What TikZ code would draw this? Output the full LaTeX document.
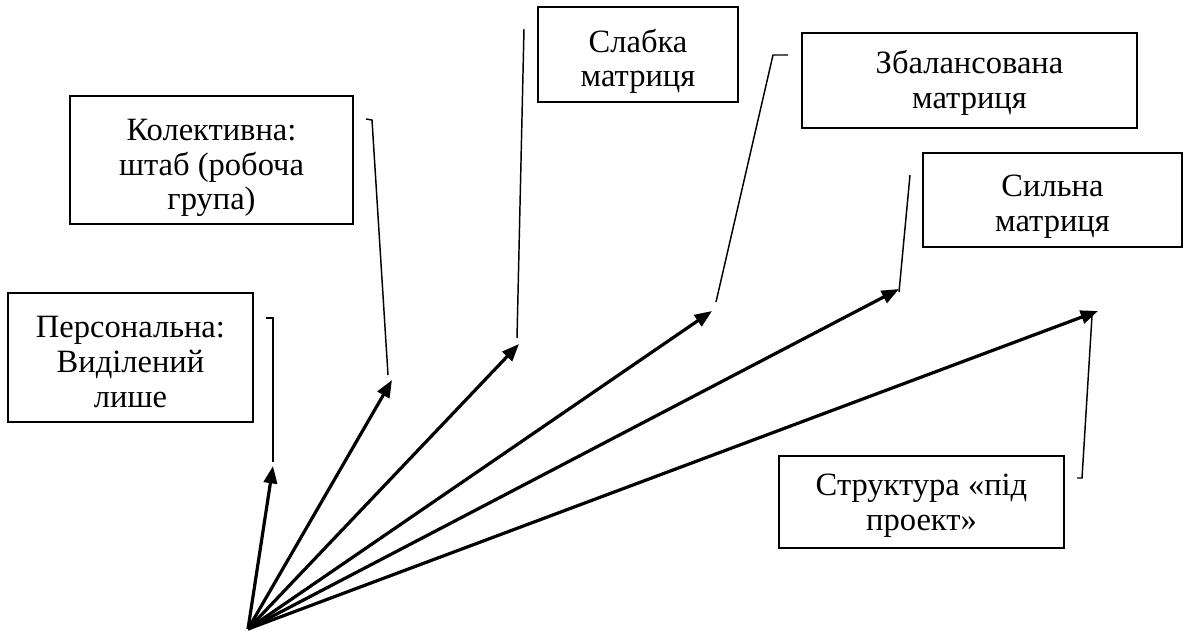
\documentclass[tikz,border=0pt]{standalone}
\usepackage{fontspec}
\setmainfont{Liberation Serif}
\usetikzlibrary{arrows.meta}
\begin{document}
\begin{tikzpicture}[x=0.75pt,y=-0.75pt,
  box/.style={draw,line width=1.1pt,inner sep=0pt,outer sep=0pt},
  txt/.style={inner sep=0pt,align=center,font=\fontsize{24.4}{26}\selectfont},
  arr/.style={line width=2.4pt,-{Triangle[length=13pt,width=10pt]}},
  callout/.style={line width=1.1pt}]
\useasboundingbox (0,0) rectangle (1184,635);

% category boxes
\node[box,minimum width=183.75pt,minimum height=96.75pt] (pers) at (130.5,357.5) {};
\node[box,minimum width=212.25pt,minimum height=96pt] (kol) at (211.5,160) {};
\node[box,minimum width=150pt,minimum height=71.25pt] (slab) at (638,54.5) {};
\node[box,minimum width=251.25pt,minimum height=71.25pt] (bal) at (969.5,80.5) {};
\node[box,minimum width=194.25pt,minimum height=70.5pt] (sil) at (1052.5,200) {};
\node[box,minimum width=213.75pt,minimum height=69pt] (proj) at (921.5,502) {};

% box captions
\node[txt] (persT) at ([yshift=-3.5pt]pers.center) {Персональна:\\Виділений\\лише};
\node[txt] (kolT) at ([yshift=-6pt]kol.center) {Колективна:\\штаб (робоча\\група)};
\node[txt] (slabT) at ([yshift=-5pt]slab.center) {Слабка\\матриця};
\node[txt] (balT) at ([yshift=-1.5pt]bal.center) {Збалансована\\матриця};
\node[txt] (silT) at ([yshift=-5pt]sil.center) {Сильна\\матриця};
\node[txt] (projT) at ([yshift=-3pt]proj.center) {Структура «під\\проект»};

% common origin and arrow tips
\coordinate (O) at (248,629);
\coordinate (t1) at (273,466);
\coordinate (t2) at (392,380);
\coordinate (t3) at (519,344);
\coordinate (t4) at (712,311);
\coordinate (t5) at (899,289);
\coordinate (t6) at (1098,311);

% fan of arrows
\foreach \t in {t1,t2,t3,t4,t5,t6}
  \draw[arr] (O) -- (\t);

% leader lines from the boxes to the arrow tips
\coordinate (a1) at (266,318); \coordinate (b1) at (273,318); \coordinate (e1) at (273,462);
\coordinate (a2) at (366,119); \coordinate (b2) at (372,120); \coordinate (e2) at (388,375);
\coordinate (a3) at (524,29);  \coordinate (e3) at (517,338);
\coordinate (a4) at (788,55);  \coordinate (b4) at (773,55);  \coordinate (e4) at (716,302);
\coordinate (a5) at (910,175); \coordinate (e5) at (899,292);
\coordinate (a6) at (1077,478); \coordinate (b6) at (1082,478); \coordinate (e6) at (1092,316);

\draw[callout] (a1) -- (b1) -- (e1);
\draw[callout] (a2) -- (b2) -- (e2);
\draw[callout] (a3) -- (e3);
\draw[callout] (a4) -- (b4) -- (e4);
\draw[callout] (a5) -- (e5);
\draw[callout] (a6) -- (b6) -- (e6);
\end{tikzpicture}
\end{document}
